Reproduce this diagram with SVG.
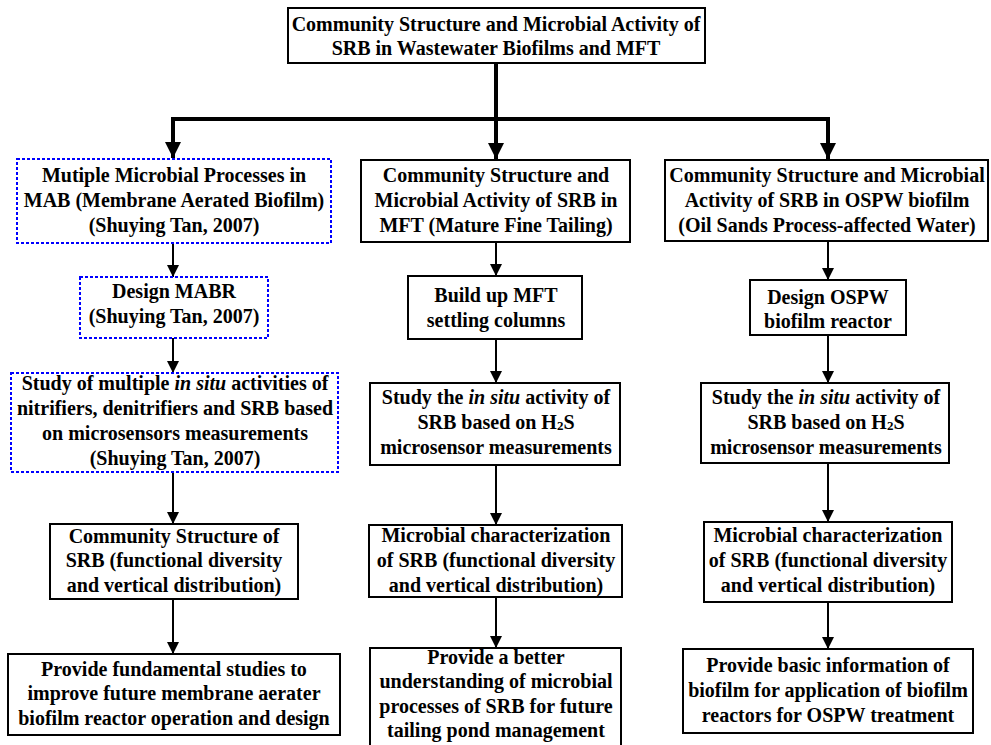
<svg xmlns="http://www.w3.org/2000/svg" width="991" height="745" viewBox="0 0 991 745">
<style>
  .box { fill: #ffffff; stroke: #000000; stroke-width: 2; }
  .dbox { fill: #ffffff; stroke: #0000ff; stroke-width: 2; stroke-dasharray: 3 2; }
  text { font-family: 'Liberation Serif', Tinos, 'Times New Roman', Times, serif; font-weight: 700; font-size: 20px; fill: #000000; text-anchor: middle; }
  .i { font-style: italic; }
  .sub { font-size: 13px; }
  .thin { fill: none; stroke: #000000; stroke-width: 2; }
  .thick { fill: none; stroke: #000000; stroke-width: 4; stroke-linejoin: miter; }
</style>
<defs>
  <marker id="ah" markerUnits="userSpaceOnUse" markerWidth="12" markerHeight="12" refX="12" refY="6" orient="auto">
    <path d="M0,0 L12,6 L0,12 z" fill="#000000"/>
  </marker>
  <marker id="ahb" markerUnits="userSpaceOnUse" markerWidth="16" markerHeight="16" refX="16" refY="8" orient="auto">
    <path d="M0,0 L16,8 L0,16 z" fill="#000000"/>
  </marker>
</defs>
<rect width="991" height="745" fill="#ffffff"/>

<g id="connectors">
  <path class="thick" d="M496,63 V159" marker-end="url(#ahb)"/>
  <path class="thick" d="M496,119 H173 V158" marker-end="url(#ahb)"/>
  <path class="thick" d="M496,119 H828 V159" marker-end="url(#ahb)"/>
  <path class="thin" d="M173,243 V277" marker-end="url(#ah)"/>
  <path class="thin" d="M173,338 V373" marker-end="url(#ah)"/>
  <path class="thin" d="M173,472 V524" marker-end="url(#ah)"/>
  <path class="thin" d="M173,599 V654" marker-end="url(#ah)"/>
  <path class="thin" d="M496,242 V276" marker-end="url(#ah)"/>
  <path class="thin" d="M496,339 V383" marker-end="url(#ah)"/>
  <path class="thin" d="M496,465 V525" marker-end="url(#ah)"/>
  <path class="thin" d="M496,597 V648" marker-end="url(#ah)"/>
  <path class="thin" d="M828,241 V280" marker-end="url(#ah)"/>
  <path class="thin" d="M828,335 V383" marker-end="url(#ah)"/>
  <path class="thin" d="M828,463 V522" marker-end="url(#ah)"/>
  <path class="thin" d="M828,602 V649" marker-end="url(#ah)"/>
</g>

<g id="top">
  <rect class="box" x="288" y="8" width="417" height="55"/>
  <text x="496" y="31">Community Structure and Microbial Activity of</text>
  <text x="496" y="55">SRB in Wastewater Biofilms and MFT</text>
</g>

<g id="L1">
  <rect class="dbox" x="17" y="159" width="314" height="84"/>
  <text x="174" y="182">Mutiple Microbial Processes in</text>
  <text x="174" y="207">MAB (Membrane Aerated Biofilm)</text>
  <text x="174" y="232">(Shuying Tan, 2007)</text>
</g>
<g id="L2">
  <rect class="dbox" x="80" y="277" width="188" height="61"/>
  <text x="174" y="298">Design MABR</text>
  <text x="174" y="323">(Shuying Tan, 2007)</text>
</g>
<g id="L3">
  <rect class="dbox" x="11" y="373" width="327" height="99"/>
  <text x="175" y="390">Study of multiple <tspan class="i">in situ</tspan> activities of</text>
  <text x="175" y="415">nitrifiers, denitrifiers and SRB based</text>
  <text x="175" y="440">on microsensors measurements</text>
  <text x="175" y="465">(Shuying Tan, 2007)</text>
</g>
<g id="L4">
  <rect class="box" x="50" y="524" width="248" height="75"/>
  <text x="174" y="543">Community Structure of</text>
  <text x="174" y="567">SRB (functional diversity</text>
  <text x="174" y="592">and vertical distribution)</text>
</g>
<g id="L5">
  <rect class="box" x="8" y="654" width="332" height="81"/>
  <text x="174" y="676">Provide fundamental studies to</text>
  <text x="174" y="700">improve future membrane aerater</text>
  <text x="174" y="725">biofilm reactor operation and design</text>
</g>

<g id="M1">
  <rect class="box" x="361" y="160" width="269" height="82"/>
  <text x="496" y="182">Community Structure and</text>
  <text x="496" y="207">Microbial Activity of SRB in</text>
  <text x="496" y="232">MFT (Mature Fine Tailing)</text>
</g>
<g id="M2">
  <rect class="box" x="408" y="276" width="174" height="63"/>
  <text x="496" y="302">Build up MFT</text>
  <text x="496" y="327">settling columns</text>
</g>
<g id="M3">
  <rect class="box" x="370" y="383" width="250" height="82"/>
  <text x="496" y="404">Study the <tspan class="i">in situ</tspan> activity of</text>
  <text x="496" y="429">SRB based on H<tspan class="sub" dy="1">2</tspan><tspan dy="-1">S</tspan></text>
  <text x="496" y="454">microsensor measurements</text>
</g>
<g id="M4">
  <rect class="box" x="369" y="525" width="253" height="72"/>
  <text x="496" y="542">Microbial characterization</text>
  <text x="496" y="567">of SRB (functional diversity</text>
  <text x="496" y="592">and vertical distribution)</text>
</g>
<g id="M5">
  <rect class="box" x="370" y="648" width="251" height="110"/>
  <text x="496" y="664">Provide a better</text>
  <text x="496" y="688">understanding of microbial</text>
  <text x="496" y="713">processes of SRB for future</text>
  <text x="496" y="737">tailing pond management</text>
</g>

<g id="R1">
  <rect class="box" x="665" y="160" width="323" height="81"/>
  <text x="827" y="182">Community Structure and Microbial</text>
  <text x="827" y="207">Activity of SRB in OSPW biofilm</text>
  <text x="827" y="232">(Oil Sands Process-affected Water)</text>
</g>
<g id="R2">
  <rect class="box" x="750" y="280" width="156" height="55"/>
  <text x="828" y="304">Design OSPW</text>
  <text x="828" y="328">biofilm reactor</text>
</g>
<g id="R3">
  <rect class="box" x="701" y="383" width="248" height="80"/>
  <text x="826" y="404">Study the <tspan class="i">in situ</tspan> activity of</text>
  <text x="826" y="429">SRB based on H<tspan class="sub" dy="1">2</tspan><tspan dy="-1">S</tspan></text>
  <text x="826" y="454">microsensor measurements</text>
</g>
<g id="R4">
  <rect class="box" x="704" y="522" width="248" height="80"/>
  <text x="828" y="542">Microbial characterization</text>
  <text x="828" y="567">of SRB (functional diversity</text>
  <text x="828" y="592">and vertical distribution)</text>
</g>
<g id="R5">
  <rect class="box" x="683" y="649" width="290" height="84"/>
  <text x="828" y="672">Provide basic information of</text>
  <text x="828" y="697">biofilm for application of biofilm</text>
  <text x="828" y="722">reactors for OSPW treatment</text>
</g>
</svg>
